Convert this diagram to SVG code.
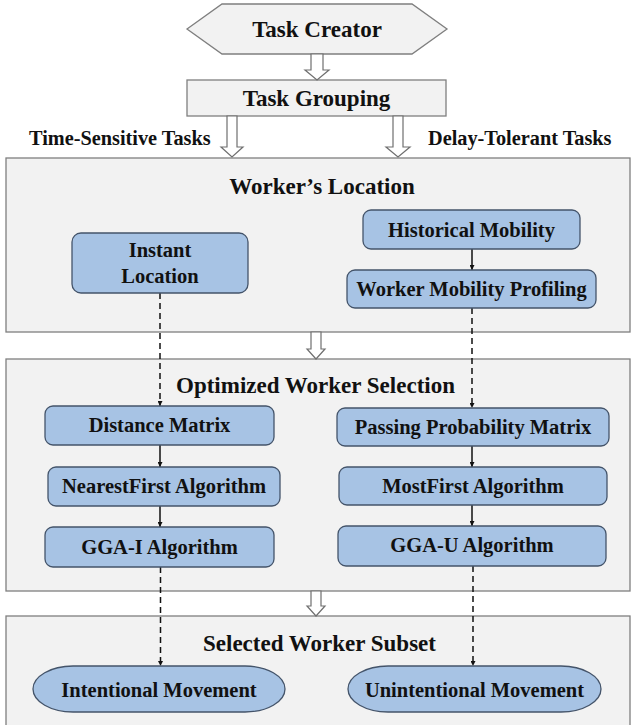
<svg xmlns="http://www.w3.org/2000/svg" width="631" height="725" viewBox="0 0 631 725">
  <defs>
    <style>
      text { font-family: "Liberation Serif", "Times New Roman", serif; font-weight: bold; fill: #111; text-anchor: middle; }
      .t23 { font-size: 23px; }
      .t20 { font-size: 20.5px; }
      .lbl { font-size: 20.3px; text-anchor: start; }
      .panel { fill: #f2f2f2; stroke: #7f7f7f; stroke-width: 1.3; }
      .top { fill: #f2f2f2; stroke: #7f7f7f; stroke-width: 1.3; }
      .box { fill: #a7c3e4; stroke: #44546a; stroke-width: 1.3; }
      .hollow { fill: #ffffff; stroke: #6f6f6f; stroke-width: 1.2; stroke-linejoin: miter; }
      .solid { stroke: #111; stroke-width: 1.5; fill: none; marker-end: url(#ah); }
      .dash { stroke: #111; stroke-width: 1.5; fill: none; stroke-dasharray: 6 4; marker-end: url(#ah); }
    </style>
    <marker id="ah" viewBox="0 0 8 8" refX="8" refY="4" markerWidth="5" markerHeight="5" orient="auto" markerUnits="userSpaceOnUse">
      <path d="M0,0 L8,4 L0,8 z" fill="#111"/>
    </marker>
  </defs>

  <!-- panels -->
  <g id="panel-location">
    <rect class="panel" x="6" y="158" width="624" height="174"/>
    <text class="t23" x="322" y="194">Worker’s Location</text>
  </g>
  <g id="panel-selection">
    <rect class="panel" x="6" y="359" width="624" height="232"/>
    <text class="t23" x="315.5" y="393">Optimized Worker Selection</text>
  </g>
  <g id="panel-subset">
    <rect class="panel" x="6" y="616" width="624" height="115"/>
    <text class="t23" x="319.5" y="651">Selected Worker Subset</text>
  </g>

  <!-- top nodes -->
  <g id="task-creator">
    <polygon class="top" points="187,29 222,4 412,4 447,29 412,54 222,54"/>
    <text class="t23" x="317" y="37">Task Creator</text>
  </g>
  <g id="task-grouping">
    <rect class="top" x="187" y="80" width="259" height="36"/>
    <text class="t23" x="316.5" y="106">Task Grouping</text>
  </g>

  <!-- connectors -->
  <g id="connectors">
    <!-- hollow block arrows -->
    <path class="hollow" d="M311,54 L323,54 L323,70 L329,70 L317,80 L305,70 L311,70 Z"/>
    <path class="hollow" d="M227,116 L237,116 L237,147 L243,147 L232,157 L221,147 L227,147 Z"/>
    <path class="hollow" d="M393,116 L403,116 L403,147 L410,147 L398,157 L386,147 L393,147 Z"/>
    <path class="hollow" d="M311,332 L321,332 L321,349 L325,349 L316,359 L307,349 L311,349 Z"/>
    <path class="hollow" d="M311,591 L321,591 L321,606 L325,606 L316,616 L307,606 L311,606 Z"/>
    <!-- dashed flows -->
    <line class="dash" x1="160" y1="293" x2="160" y2="406"/>
    <line class="dash" x1="472" y1="308" x2="472" y2="408"/>
    <line class="dash" x1="160.5" y1="567" x2="160.5" y2="666"/>
    <line class="dash" x1="473" y1="566" x2="473" y2="666"/>
    <!-- solid arrows -->
    <line class="solid" x1="472" y1="249" x2="472" y2="270"/>
    <line class="solid" x1="160" y1="445" x2="160" y2="467"/>
    <line class="solid" x1="160" y1="506" x2="160" y2="527"/>
    <line class="solid" x1="472" y1="446" x2="472" y2="467"/>
    <line class="solid" x1="472" y1="505" x2="472" y2="526"/>
  </g>

  <!-- edge labels -->
  <g id="labels">
    <text class="lbl" x="29" y="145">Time-Sensitive Tasks</text>
    <text class="lbl" x="428" y="145">Delay-Tolerant Tasks</text>
  </g>

  <!-- location nodes -->
  <g id="instant-location">
    <rect class="box" x="72" y="233" width="176" height="60" rx="9"/>
    <text class="t20" x="160" y="257">Instant</text>
    <text class="t20" x="160" y="283">Location</text>
  </g>
  <g id="historical-mobility">
    <rect class="box" x="363" y="210" width="217" height="39" rx="8"/>
    <text class="t20" x="471.5" y="237">Historical Mobility</text>
  </g>
  <g id="mobility-profiling">
    <rect class="box" x="347" y="270" width="249" height="38" rx="8"/>
    <text class="t20" x="471.5" y="296">Worker Mobility Profiling</text>
  </g>

  <!-- selection nodes -->
  <g id="distance-matrix">
    <rect class="box" x="45" y="406" width="229" height="39" rx="8"/>
    <text class="t20" x="159.5" y="432">Distance Matrix</text>
  </g>
  <g id="nearestfirst">
    <rect class="box" x="48" y="467" width="232" height="39" rx="8"/>
    <text class="t20" x="164" y="493">NearestFirst Algorithm</text>
  </g>
  <g id="gga-i">
    <rect class="box" x="45" y="527" width="229" height="40" rx="8"/>
    <text class="t20" x="159.5" y="554">GGA-I Algorithm</text>
  </g>
  <g id="passing-probability">
    <rect class="box" x="337" y="408" width="272" height="38" rx="8"/>
    <text class="t20" x="473" y="434">Passing Probability Matrix</text>
  </g>
  <g id="mostfirst">
    <rect class="box" x="339" y="467" width="268" height="38" rx="8"/>
    <text class="t20" x="473" y="493">MostFirst Algorithm</text>
  </g>
  <g id="gga-u">
    <rect class="box" x="338" y="526" width="268" height="40" rx="8"/>
    <text class="t20" x="472" y="552">GGA-U Algorithm</text>
  </g>

  <!-- subset nodes -->
  <g id="intentional">
    <rect class="box" x="33" y="666" width="252" height="46" rx="40" ry="23"/>
    <text class="t20" x="159" y="697">Intentional Movement</text>
  </g>
  <g id="unintentional">
    <rect class="box" x="348" y="666" width="253" height="46" rx="40" ry="23"/>
    <text class="t20" x="474.5" y="697">Unintentional Movement</text>
  </g>
</svg>
